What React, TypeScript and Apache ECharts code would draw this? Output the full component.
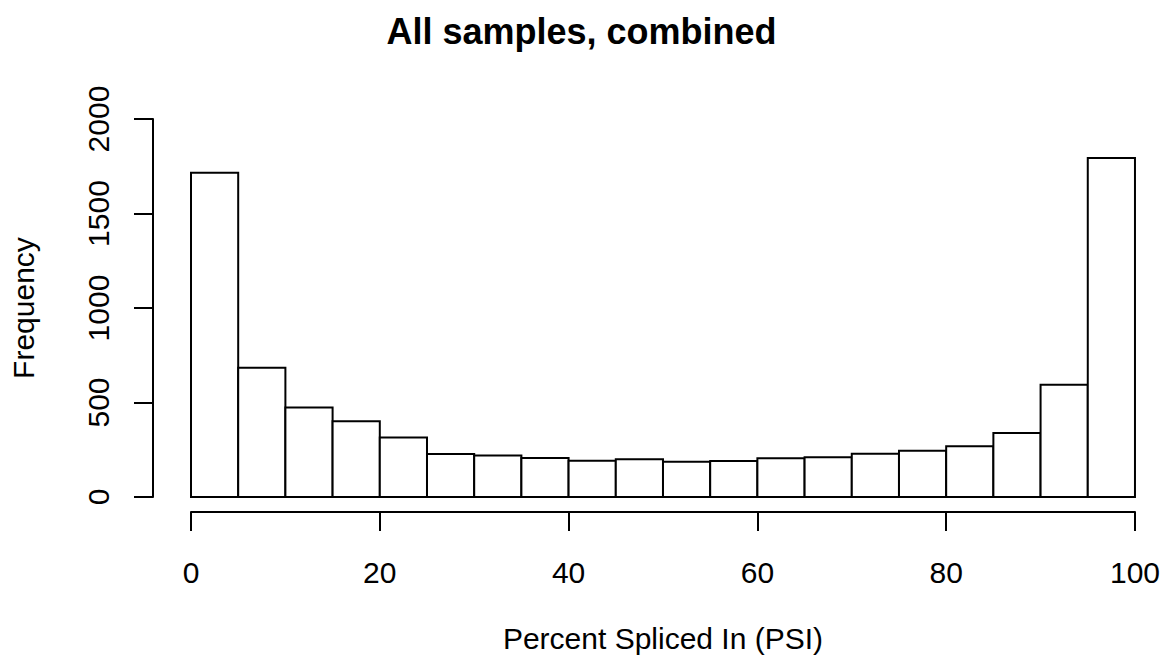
import React, { useEffect, useRef } from "react";
import * as echarts from "echarts";

const binStarts = [0, 5, 10, 15, 20, 25, 30, 35, 40, 45, 50, 55, 60, 65, 70, 75, 80, 85, 90, 95];
const binEnds = [5, 10, 15, 20, 25, 30, 35, 40, 45, 50, 55, 60, 65, 70, 75, 80, 85, 90, 95, 100];
const counts = [1716, 684, 473, 401, 315, 228, 219, 207, 192, 200, 186, 191, 205, 210, 229, 245, 268, 338, 594, 1793];
const xTicks = [0, 20, 40, 60, 80, 100];
const yTicks = [0, 500, 1000, 1500, 2000];

const FONT = "'Liberation Sans', Arial, Helvetica, sans-serif";

export default function App() {
  const ref = useRef<HTMLDivElement>(null);
  useEffect(() => {
    if (!ref.current) return;
    const chart = echarts.init(ref.current, undefined, { renderer: "svg" });
    const data = binStarts.map((s, i) => [s, binEnds[i], counts[i]]);
    chart.setOption({
      animation: false,
      backgroundColor: "#ffffff",
      title: {
        text: "All samples, combined",
        left: "center",
        top: 8,
        textStyle: { fontFamily: FONT, fontSize: 36, fontWeight: "bold", color: "#000" },
      },
      grid: { left: 189, top: 119, width: 946, height: 380 },
      xAxis: {
        type: "value",
        min: xTicks[0],
        max: xTicks[xTicks.length - 1],
        interval: 20,
        offset: 15,
        name: "Percent Spliced In (PSI)",
        nameLocation: "middle",
        nameGap: 111,
        nameTextStyle: { fontFamily: FONT, fontSize: 30, color: "#000" },
        axisLine: { show: true, onZero: false, lineStyle: { color: "#000", width: 2 } },
        axisTick: { show: true, length: 19, lineStyle: { color: "#000", width: 2 } },
        axisLabel: {
          margin: 45,
          fontFamily: FONT,
          fontSize: 30,
          color: "#000",
          formatter: (v: number) => String(v),
        },
        splitLine: { show: false },
      },
      yAxis: {
        type: "value",
        min: yTicks[0],
        max: yTicks[yTicks.length - 1],
        interval: 500,
        offset: 38,
        name: "Frequency",
        nameLocation: "middle",
        nameGap: 115,
        nameTextStyle: { fontFamily: FONT, fontSize: 30, color: "#000" },
        axisLine: { show: true, onZero: false, lineStyle: { color: "#000", width: 2 } },
        axisTick: { show: true, length: 19, lineStyle: { color: "#000", width: 2 } },
        axisLabel: {
          rotate: 90,
          margin: 40,
          fontFamily: FONT,
          fontSize: 30,
          color: "#000",
          formatter: (v: number) => String(v),
        },
        splitLine: { show: false },
      },
      series: [
        {
          type: "custom",
          data,
          encode: { x: [0, 1], y: 2 },
          renderItem: (params: any, api: any) => {
            const p0 = api.coord([api.value(0), api.value(2)]);
            const p1 = api.coord([api.value(1), 0]);
            return {
              type: "rect",
              shape: { x: p0[0], y: p0[1], width: p1[0] - p0[0], height: p1[1] - p0[1] },
              style: { fill: "#ffffff", stroke: "#000000", lineWidth: 2 },
            };
          },
        },
      ],
    });
    return () => chart.dispose();
  }, []);
  return (
    <div
      ref={ref}
      style={{ position: "fixed", left: 0, top: 0, width: 1163, height: 658, background: "#fff" }}
    />
  );
}
